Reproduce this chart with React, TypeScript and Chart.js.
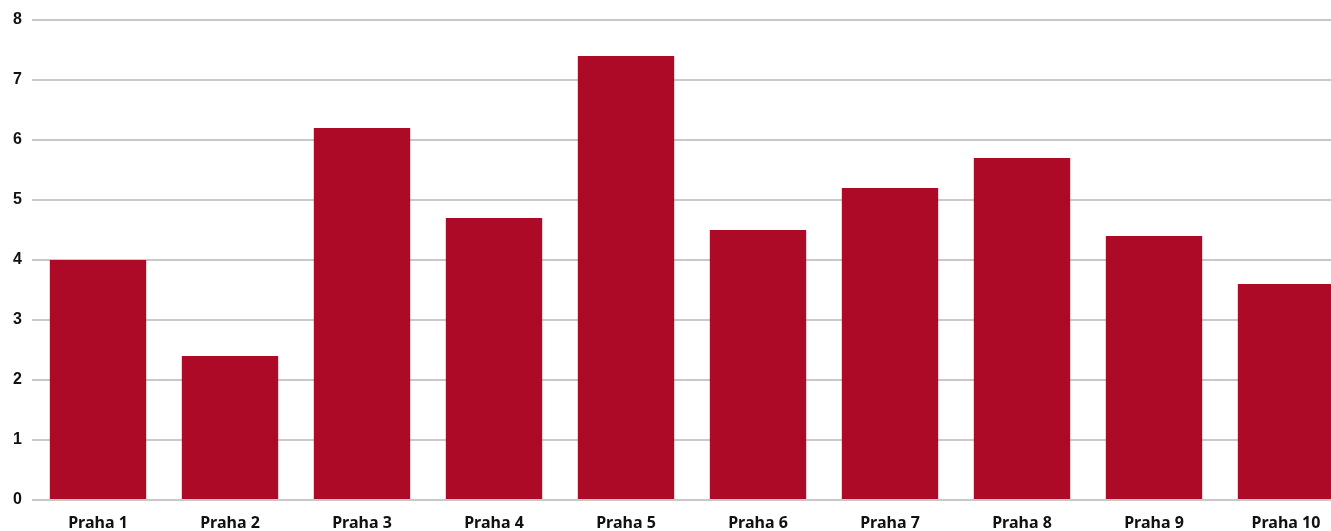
import React, { useEffect, useRef } from "react";
import { Chart, registerables } from "chart.js";

Chart.register(...registerables);

const categories = ["Praha 1", "Praha 2", "Praha 3", "Praha 4", "Praha 5", "Praha 6", "Praha 7", "Praha 8", "Praha 9", "Praha 10"];
const values = [4.0, 2.4, 6.2, 4.7, 7.4, 4.5, 5.2, 5.7, 4.4, 3.6];
const yTicks = [0, 1, 2, 3, 4, 5, 6, 7, 8];

export default function App() {
  const ref = useRef<HTMLCanvasElement>(null);
  useEffect(() => {
    if (!ref.current) return;
    const chart = new Chart(ref.current, {
      type: "bar",
      data: {
        labels: categories,
        datasets: [
          {
            data: values,
            backgroundColor: "#AD0A28",
            categoryPercentage: 1,
            barPercentage: 0.73,
          },
        ],
      },
      options: {
        animation: false,
        responsive: false,
        maintainAspectRatio: false,
        layout: { padding: { top: 20, left: 0, right: 0, bottom: 0 } },
        plugins: { legend: { display: false }, tooltip: { enabled: false } },
        scales: {
          x: {
            grid: { display: false, drawTicks: false },
            border: { display: false },
            ticks: {
              color: "#111",
              padding: 14,
              maxRotation: 0,
              font: { family: "'Noto Sans', sans-serif", size: 16, weight: "bold" },
            },
            afterFit: (s: any) => {
              s.height = 31;
            },
          },
          y: {
            min: 0,
            max: 8,
            afterBuildTicks: (s: any) => {
              s.ticks = yTicks.map((v) => ({ value: v }));
            },
            grid: { color: "#c8c8c8", lineWidth: 2, drawTicks: false },
            border: { display: false },
            ticks: {
              color: "#111",
              padding: 10,
              font: { family: "'Liberation Sans', sans-serif", size: 16, weight: "bold" },
            },
            afterFit: (s: any) => {
              s.width = 32;
            },
          },
        },
      },
    });
    return () => chart.destroy();
  }, []);
  return (
    <div style={{ position: "fixed", left: 0, top: 0, width: 1331, height: 531, overflow: "hidden", background: "#fff" }}>
      <canvas ref={ref} width={1352} height={531} style={{ display: "block", width: 1352, height: 531 }} />
    </div>
  );
}
